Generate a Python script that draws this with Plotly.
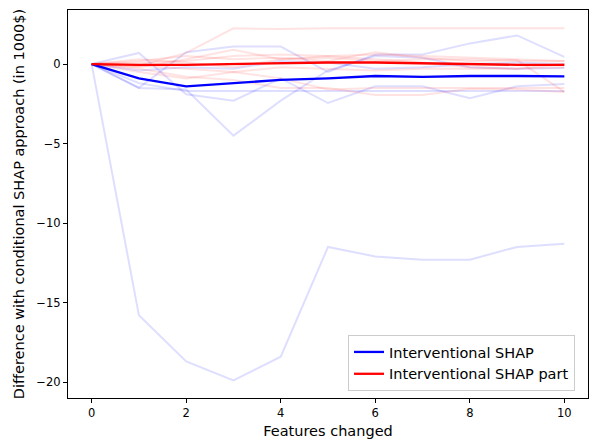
import plotly.graph_objects as go

features_changed = list(range(11))

# faint individual lines (Interventional SHAP)
blue_1 = [0, -15.8, -18.7, -19.9, -18.4, -11.5, -12.1, -12.3, -12.3, -11.5, -11.3]
blue_2 = [0, -1.5, 0.75, 1.1, 1.1, -0.5, 0.6, 0.6, 1.3, 1.8, 0.45]
blue_3 = [0, 0.7, -1.9, -2.3, -0.9, -2.45, -1.4, -1.4, -2.15, -1.4, -1.25]
blue_4 = [0, -1.5, -1.6, -4.5, -2.3, -0.4, 0.5, 0.4, -0.2, -0.3, -0.25]
blue_5 = [0, -1.2, -1.7, -1.7, -1.7, -1.7, -1.7, -1.7, -1.7, -1.7, -1.7]
blue_6 = [0, -0.4, -0.2, -0.3, 0.2, 0.1, -0.3, -0.2, 0.0, 0.1, 0.0]

# faint individual lines (Interventional SHAP part)
red_1 = [0, -0.1, 0.7, 2.25, 2.2, 2.25, 2.25, 2.25, 2.25, 2.25, 2.25]
red_2 = [0, -0.3, -0.8, -1.0, -1.5, -1.5, -1.95, -1.95, -1.55, -1.6, -1.75]
red_3 = [0, 0.2, 0.5, 0.3, 0.4, 0.2, 0.75, 0.4, 0.2, 0.25, -1.75]
red_4 = [0, -0.2, 0.3, 0.9, 0.3, 0.5, 0.3, 0.1, -0.2, -0.3, 0.0]
red_5 = [0, -0.5, -0.9, -0.5, -0.9, -1.6, -1.5, -1.5, -1.5, -1.5, -1.5]
red_6 = [0, 0.1, 0.2, 0.5, 0.6, 0.5, 0.6, 0.5, 0.4, 0.3, 0.2]
red_7 = [0, -0.1, -0.3, -0.5, -0.2, -0.3, -0.4, -0.3, -0.3, -0.3, -0.2]
red_8 = [0, 0.3, 0.1, -0.2, 0.3, 0.4, 0.2, 0.3, 0.3, 0.2, 0.2]

# mean lines
mean_interventional = [0, -0.9, -1.4, -1.2, -1.0, -0.9, -0.75, -0.8, -0.75, -0.75, -0.78]
mean_interventional_part = [0, -0.05, -0.05, 0.0, 0.05, 0.1, 0.1, 0.05, 0.0, -0.05, -0.05]

y_tick_vals = [-20, -15, -10, -5, 0]
y_tick_text = ["\u221220", "\u221215", "\u221210", "\u22125", "0"]
x_tick_vals = [0, 2, 4, 6, 8, 10]

fig = go.Figure()

for ys in [blue_1, blue_2, blue_3, blue_4, blue_5, blue_6]:
    fig.add_trace(go.Scatter(x=features_changed, y=ys, mode="lines",
                             line=dict(color="rgba(0,0,255,0.13)", width=2),
                             showlegend=False, hoverinfo="skip"))
for ys in [red_1, red_2, red_3, red_4, red_5, red_6, red_7, red_8]:
    fig.add_trace(go.Scatter(x=features_changed, y=ys, mode="lines",
                             line=dict(color="rgba(255,0,0,0.11)", width=2),
                             showlegend=False, hoverinfo="skip"))

fig.add_trace(go.Scatter(x=features_changed, y=mean_interventional, mode="lines",
                         line=dict(color="#0000ff", width=2.3),
                         name="Interventional SHAP"))
fig.add_trace(go.Scatter(x=features_changed, y=mean_interventional_part, mode="lines",
                         line=dict(color="#ff0000", width=2.3),
                         name="Interventional SHAP part"))

font_family = "DejaVu Sans"
fig.update_layout(
    width=589, height=444,
    margin=dict(l=68, r=1, t=10, b=46),
    paper_bgcolor="white", plot_bgcolor="white",
    font=dict(family=font_family, size=11.5, color="black"),
    legend=dict(x=0.975, y=0.018, xanchor="right", yanchor="bottom",
                bgcolor="rgba(255,255,255,0.8)", bordercolor="#cccccc", borderwidth=1,
                font=dict(size=14.5, family=font_family), itemwidth=30,
                tracegroupgap=0),
    xaxis=dict(range=[-0.5, 10.5], tickvals=x_tick_vals, showgrid=False, zeroline=False,
               showline=True, mirror=True, linecolor="black", linewidth=1.2,
               ticks="outside", ticklen=4, tickcolor="black", automargin=False,
               title=dict(text="Features changed", font=dict(size=14.5), standoff=6)),
    yaxis=dict(range=[-21.0, 3.4], tickvals=y_tick_vals, ticktext=y_tick_text,
               showgrid=False, zeroline=False,
               showline=True, mirror=True, linecolor="black", linewidth=1.2,
               ticks="outside", ticklen=4, tickcolor="black", automargin=False,
               title=dict(text="Difference with conditional SHAP approach (in 1000$)",
                          font=dict(size=14.5), standoff=8)),
)

fig.write_html("out.html",
               config={"displayModeBar": False},
               post_script="document.body.style.margin='0';document.body.style.overflow='hidden';")
